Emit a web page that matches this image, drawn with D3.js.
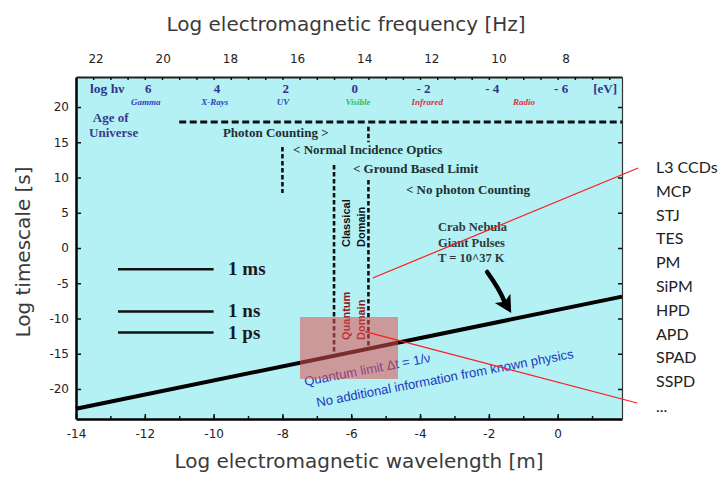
<!DOCTYPE html>
<html><head><meta charset="utf-8">
<script src="https://cdn.jsdelivr.net/npm/d3@7"></script>
<style>body{margin:0;background:#fff}</style>
</head><body>
<svg id="chart" width="718" height="477"></svg>
<script>
// ---- data ----
const wavelengthTicks = [-14,-12,-10,-8,-6,-4,-2,0];
const timescaleTicks = [20,15,10,5,0,-5,-10,-15,-20];
const frequencyTicks = [22,20,18,16,14,12,10,8];
const energyTicks = [6,4,2,0,-2,-4,-6];
const energyLabels = ["6","4","2","0","- 2","- 4","- 6"];
const bands = ["Gamma","X-Rays","UV","Visible","Infrared","Radio"];
const bandWavelength = [-11.97,-9.97,-7.98,-5.8,-3.79,-0.98];
const quantumLimitWl = [-14, 1.87];
const quantumLimitT = [-22.8, -6.9];
const scaleBarLabels = ["1 ms","1 ns","1 ps"];
const scaleBarT = [-3,-9,-12];
const ageOfUniverseT = 17.87;
const detectors = ["L3 CCDs","MCP","STJ","TES","PM","SiPM","HPD","APD","SPAD","SSPD","..."];

// ---- layout ----
const W = 718, H = 477;
const L = 76, R = 622, T = 77, B = 419;
const svg = d3.select("#chart");
const x = d3.scaleLinear().domain([-14, 1.87]).range([L, R]);
const y = d3.scaleLinear().domain([-24.26, 24.26]).range([B, T]);
const xFreq = d3.scaleLinear().domain([22, 8]).range([x(-13.43), x(0.23)]);
const wlOfEnergy = e => -5.9 - e;
const qT = wl => quantumLimitT[0] + (wl - quantumLimitWl[0]) * (quantumLimitT[1]-quantumLimitT[0])/(quantumLimitWl[1]-quantumLimitWl[0]);

const serif = "'Liberation Serif','Times New Roman',serif";
const sans = "'Liberation Sans',Arial,sans-serif";
const dejavu = "'DejaVu Sans',Verdana,sans-serif";

svg.append("rect").attr("x", L).attr("y", T).attr("width", R-L).attr("height", B-T).attr("fill", "#b4f1f5");

// axes
function styleAxis(g, w, col) {
  g.select(".domain").attr("stroke", col).attr("stroke-width", w);
  g.selectAll(".tick line").attr("stroke", "#111").attr("stroke-width", 1.5);
  g.selectAll("text").attr("font-family", dejavu).attr("font-size", 12).attr("fill", "#222");
}
const gB = svg.append("g").attr("transform", `translate(0,${B})`)
  .call(d3.axisBottom(x).tickValues(wavelengthTicks).tickSizeInner(-5).tickSizeOuter(0).tickPadding(10.5).tickFormat(d => String(d)));
styleAxis(gB, 2.5, "#000");
svg.append("g").attr("transform", `translate(0,${B})`)
  .call(d3.axisBottom(x).tickValues(d3.range(-13, 2, 1)).tickSizeInner(-3).tickSizeOuter(0).tickFormat(""))
  .call(g => { g.select(".domain").remove(); g.selectAll("line").attr("stroke", "#111").attr("stroke-width", 1.5); });

const gL = svg.append("g").attr("transform", `translate(${L},0)`)
  .call(d3.axisLeft(y).tickValues(timescaleTicks).tickSizeInner(-5).tickSizeOuter(0).tickPadding(7).tickFormat(d => String(d)));
styleAxis(gL, 2.5, "#000");

const gR = svg.append("g").attr("transform", `translate(${R},0)`)
  .call(d3.axisRight(y).tickValues(timescaleTicks).tickSizeInner(-4).tickSizeOuter(0).tickFormat(""));
styleAxis(gR, 1.2, "#333");

const gT = svg.append("g").attr("transform", `translate(0,${T})`)
  .call(d3.axisTop(x).tickValues(d3.range(-13.5, 1.87, 0.5)).tickSizeInner(-3).tickSizeOuter(0).tickFormat(""));
styleAxis(gT, 2, "#222");
const gTF = svg.append("g").attr("transform", `translate(0,${T})`)
  .call(d3.axisTop(xFreq).tickValues(frequencyTicks).tickSize(0).tickPadding(14).tickFormat(d => String(d)));
gTF.select(".domain").remove();
gTF.selectAll("text").attr("font-family", dejavu).attr("font-size", 12).attr("fill", "#222");

// energy row
const gE = svg.append("g");
gE.append("text").attr("x", x(-13.59)).attr("y", y(22.0)).text("log hν")
  .attr("font-family", serif).attr("font-weight", "bold").attr("font-size", 13.5).attr("fill", "#33338a");
gE.selectAll(".e").data(energyTicks).join("text")
  .attr("x", d => x(wlOfEnergy(d))).attr("y", y(22.0)).attr("text-anchor", "middle")
  .text((d, i) => energyLabels[i])
  .attr("font-family", serif).attr("font-weight", "bold").attr("font-size", 13).attr("fill", "#33338a");
gE.append("text").attr("x", x(1.38)).attr("y", y(22.0)).attr("text-anchor", "middle").text("[eV]")
  .attr("font-family", serif).attr("font-weight", "bold").attr("font-size", 13).attr("fill", "#33338a");
const bandCol = ["#3344bb","#3344bb","#3344bb","#33bb55","#e03040","#e03040"];
gE.selectAll(".b").data(bands).join("text")
  .attr("x", (d, i) => x(bandWavelength[i])).attr("y", y(20.28)).attr("text-anchor", "middle").text(d => d)
  .attr("font-family", serif).attr("font-weight", "bold").attr("font-style", "italic").attr("font-size", 9)
  .attr("fill", (d, i) => bandCol[i]);

// age of universe
const ageFont = g => g.attr("font-family", serif).attr("font-weight", "bold").attr("font-size", 13).attr("fill", "#3a3a8a");
svg.append("text").attr("x", x(-13.51)).attr("y", y(17.9)).text("Age of").call(ageFont);
svg.append("text").attr("x", x(-13.62)).attr("y", y(15.79)).text("Universe").call(ageFont);
svg.append("line").attr("x1", x(-11.0)).attr("x2", x(1.87)).attr("y1", y(ageOfUniverseT)).attr("y2", y(ageOfUniverseT))
  .attr("stroke", "#111").attr("stroke-width", 3).attr("stroke-dasharray", "7,3.5");

// vertical limits
const vLine = (wl, t1, t2) => svg.append("line").attr("x1", x(wl)).attr("x2", x(wl)).attr("y1", y(t1)).attr("y2", y(t2))
  .attr("stroke", "#111").attr("stroke-width", 2.6).attr("stroke-dasharray", "4.5,2.5");
vLine(-5.5, 17.2, 15.0);
vLine(-8.0, 14.33, 7.8);
vLine(-6.5, 11.77, qT(-6.5));
vLine(-5.5, 9.65, qT(-5.5));

// annotation texts
const darkText = g => g.attr("font-family", serif).attr("font-weight", "bold").attr("font-size", 13).attr("fill", "#1f2f2f");
svg.append("text").attr("x", x(-9.73)).attr("y", y(15.79)).text("Photon Counting >").call(darkText);
svg.append("text").attr("x", x(-7.69)).attr("y", y(13.33)).text("< Normal Incidence Optics").call(darkText);
svg.append("text").attr("x", x(-5.95)).attr("y", y(10.64)).text("< Ground Based Limit").call(darkText);
svg.append("text").attr("x", x(-4.41)).attr("y", y(7.66)).text("< No photon Counting").call(darkText);

const rotText = (wl, t, txt, col) => svg.append("text")
  .attr("transform", `translate(${x(wl)},${y(t)}) rotate(-90)`).text(txt)
  .attr("font-family", sans).attr("font-weight", "bold").attr("font-size", 11).attr("fill", col);
rotText(-6.03, 0.14, "Classical", "#111");
rotText(-5.6, 0.14, "Domain", "#111");
rotText(-6.03, -13.05, "Quantum", "#8e1414");
rotText(-5.6, -13.05, "Domain", "#8e1414");

const crabFont = g => g.attr("font-family", serif).attr("font-weight", "bold").attr("font-size", 12.5).attr("fill", "#2d3b3b");
svg.append("text").attr("x", x(-3.48)).attr("y", y(2.41)).text("Crab Nebula").call(crabFont);
svg.append("text").attr("x", x(-3.48)).attr("y", y(0.14)).text("Giant Pulses").call(crabFont);
svg.append("text").attr("x", x(-3.48)).attr("y", y(-1.99)).text("T = 10^37 K").call(crabFont);

// arrow
{
  const x0 = x(-2.05), y0 = y(-3.4), x1 = x(-1.35), y1 = y(-9.22);
  const dx = x1 - x0, dy = y1 - y0, len = Math.hypot(dx, dy), ux = dx/len, uy = dy/len;
  const hl = 17, hw = 9;
  const bx = x1 - ux*hl, by = y1 - uy*hl;
  svg.append("path").attr("d", `M${x0},${y0} Q${x0+dx*0.45+uy*2},${y0+dy*0.45-ux*2} ${bx+ux*3},${by+uy*3}`)
    .attr("fill", "none").attr("stroke", "#000").attr("stroke-width", 4.5).attr("stroke-linecap", "round");
  svg.append("path").attr("d", `M${x1},${y1} L${bx - uy*hw},${by + ux*hw} L${bx + ux*4},${by + uy*4} L${bx + uy*hw},${by - ux*hw} Z`)
    .attr("fill", "#000");
}

// quantum limit line
svg.append("path").datum(quantumLimitWl.map((w, i) => [w, quantumLimitT[i]]))
  .attr("d", d3.line().x(d => x(d[0])).y(d => y(d[1])))
  .attr("stroke", "#000").attr("stroke-width", 4).attr("fill", "none");

// scale bars
scaleBarT.forEach((t, i) => {
  svg.append("line").attr("x1", x(-12.78)).attr("x2", x(-10.0)).attr("y1", y(t)).attr("y2", y(t))
    .attr("stroke", "#111").attr("stroke-width", 2.5);
  svg.append("text").attr("x", x(-9.58)).attr("y", y(t) + 6).text(scaleBarLabels[i])
    .attr("font-family", serif).attr("font-weight", "bold").attr("font-size", 19).attr("fill", "#1a1a1a");
});

// quantum limit texts
const qAngle = -10.8;
const blueText = g => g.attr("font-family", sans).attr("font-size", 13).attr("fill", "#2236c0");
svg.append("text").attr("transform", `translate(${x(-7.34)},${y(-19.57)}) rotate(${qAngle})`)
  .text("Quantum limit Δt = 1/ν").call(blueText);
svg.append("text").attr("transform", `translate(${x(-6.99)},${y(-22.55)}) rotate(${qAngle})`)
  .text("No additional information from known physics").call(blueText);

// red highlight
svg.append("rect").attr("x", x(-7.49)).attr("y", y(-9.79)).attr("width", x(-4.64) - x(-7.49)).attr("height", y(-18.58) - y(-9.79))
  .attr("fill", "#e05050").attr("opacity", 0.55);
svg.append("line").attr("x1", x(-5.375)).attr("y1", y(-4.26)).attr("x2", x(2.34)).attr("y2", y(11.35))
  .attr("stroke", "#ff1a1a").attr("stroke-width", 1.2);
svg.append("line").attr("x1", x(-5.6)).attr("y1", y(-11.87)).attr("x2", x(2.31)).attr("y2", y(-21.99))
  .attr("stroke", "#ff1a1a").attr("stroke-width", 1.2);

// detector list
svg.append("g").selectAll("text").data(detectors).join("text")
  .attr("x", 656).attr("y", (d, i) => 173 + i * 23.8 + (i === detectors.length - 1 ? 1 : 0)).text(d => d)
  .attr("font-family", "Lato,'Open Sans',sans-serif").attr("font-size", 16).attr("fill", "#222");

// titles
const titleFont = g => g.attr("font-family", dejavu).attr("font-size", 20).attr("fill", "#3a3a3a");
svg.append("text").attr("x", (L + R) / 2 - 3).attr("y", 31).attr("text-anchor", "middle")
  .text("Log electromagnetic frequency [Hz]").call(titleFont);
svg.append("text").attr("x", (L + R) / 2 + 10).attr("y", 468).attr("text-anchor", "middle")
  .text("Log electromagnetic wavelength [m]").call(titleFont);
svg.append("text").attr("transform", `translate(30,252) rotate(-90)`).attr("text-anchor", "middle")
  .text("Log timescale [s]").call(titleFont);
</script>
</body></html>
